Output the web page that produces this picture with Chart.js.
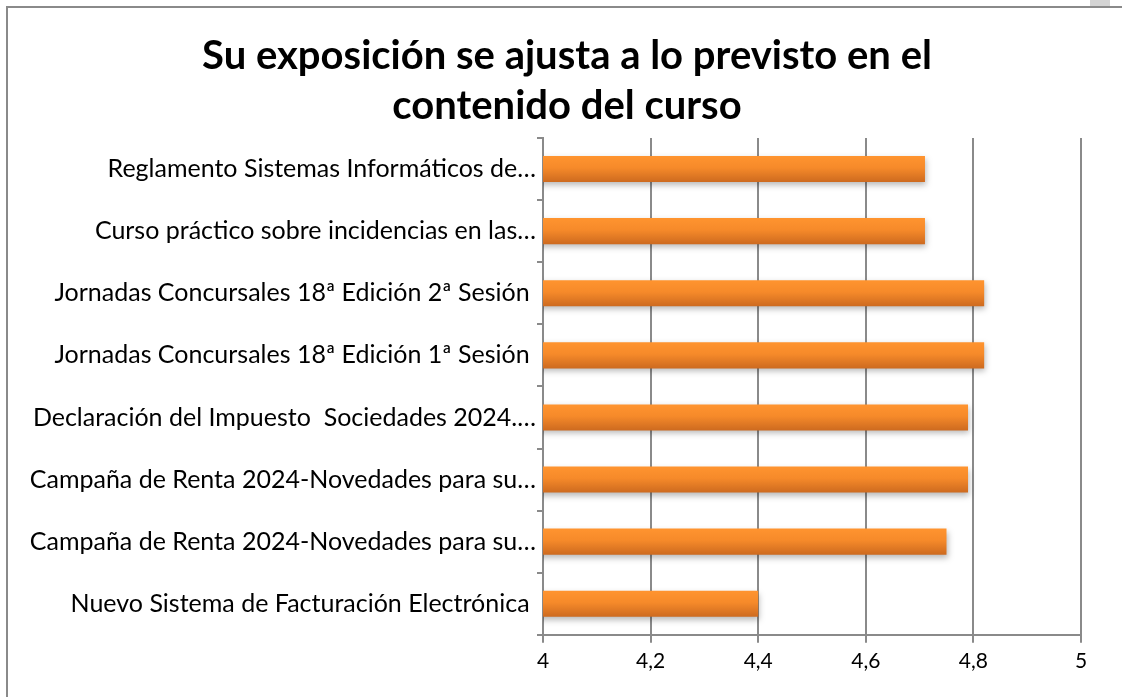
<!DOCTYPE html>
<html lang="es">
<head>
  <meta charset="UTF-8" />
  <title>Su exposición se ajusta a lo previsto en el contenido del curso</title>
  <script src="https://cdn.jsdelivr.net/npm/chart.js"></script>
  <style>
    html, body { margin: 0; padding: 0; background: #fff; overflow: hidden; }
    #frame {
      position: absolute; left: 6px; top: 6px; width: 1200px; height: 800px;
      border-left: 2px solid #8a8a8a; border-top: 2px solid #8a8a8a;
    }
    #corner { position: absolute; left: 1090px; top: 0; width: 20px; height: 6px; background: #d4d4d4; }
    #wrap { position: absolute; left: 9px; top: 8px; width: 1116px; height: 689px; }
  </style>
</head>
<body>
  <div id="frame"></div>
  <div id="corner"></div>
  <div id="wrap"><canvas id="chart"></canvas></div>

  <script>
    // courses, top to bottom
    const courses = [
      'Reglamento Sistemas Informáticos de…',
      'Curso práctico sobre incidencias en las…',
      'Jornadas Concursales 18ª Edición 2ª Sesión ',
      'Jornadas Concursales 18ª Edición 1ª Sesión ',
      'Declaración del Impuesto  Sociedades 2024.…',
      'Campaña de Renta 2024-Novedades para su…',
      'Campaña de Renta 2024-Novedades para su…',
      'Nuevo Sistema de Facturación Electrónica '
    ];
    // average score per course
    const scores = [4.71, 4.71, 4.82, 4.82, 4.79, 4.79, 4.75, 4.40];
    const titleLines = ['Su exposición se ajusta a lo previsto en el', 'contenido del curso'];
    const axisMin = 4, axisMax = 5, axisStep = 0.2;

    const BAR_PCT = 0.42;
    const gridGray = '#8a8a8a';

    // vertical orange gradient for each bar
    function barFill(context) {
      const chart = context.chart;
      const y = chart.scales.y;
      if (!y || context.dataIndex === undefined) return '#f08428';
      const center = y.getPixelForValue(context.dataIndex);
      const h = (y.height / courses.length) * BAR_PCT;
      if (!isFinite(center) || !isFinite(h) || h <= 0) return '#f08428';
      const g = chart.ctx.createLinearGradient(0, center - h / 2, 0, center + h / 2);
      g.addColorStop(0, '#ff942f');
      g.addColorStop(0.45, '#f68a2a');
      g.addColorStop(1, '#cd6a1f');
      return g;
    }

    // soft drop shadow under the bars
    const barShadow = {
      id: 'barShadow',
      beforeDatasetDraw(chart) {
        const ctx = chart.ctx;
        ctx.save();
        ctx.shadowColor = 'rgba(0,0,0,0.28)';
        ctx.shadowBlur = 6;
        ctx.shadowOffsetX = 1;
        ctx.shadowOffsetY = 3;
      },
      afterDatasetDraw(chart) {
        chart.ctx.restore();
      }
    };

    new Chart(document.getElementById('chart'), {
      type: 'bar',
      data: {
        labels: courses,
        datasets: [{
          data: scores,
          backgroundColor: barFill,
          borderWidth: 0,
          barPercentage: BAR_PCT,
          categoryPercentage: 1
        }]
      },
      options: {
        indexAxis: 'y',
        responsive: true,
        maintainAspectRatio: false,
        animation: false,
        layout: { padding: { left: 0, right: 0, top: 0, bottom: 17 } },
        plugins: {
          legend: { display: false },
          tooltip: { enabled: false },
          title: {
            display: true,
            text: titleLines,
            color: '#000',
            font: { family: 'Lato', size: 40, weight: 'bold', lineHeight: 1.25 },
            padding: { top: 23, bottom: 7 }
          }
        },
        scales: {
          x: {
            min: axisMin,
            max: axisMax,
            grid: { color: gridGray, lineWidth: 2, tickLength: 8 },
            border: { color: gridGray, width: 2 },
            ticks: {
              stepSize: axisStep,
              color: '#000',
              padding: 6,
              font: { family: 'Lato', size: 21 },
              callback: v => String(Math.round(v * 10) / 10).replace('.', ',')
            }
          },
          y: {
            grid: { drawOnChartArea: false, offset: true, color: gridGray, lineWidth: 2, tickLength: 6 },
            border: { color: gridGray, width: 2 },
            ticks: {
              color: '#000',
              padding: 1,
              autoSkip: false,
              font: { family: 'Lato', size: 25 }
            },
            afterFit(scale) { scale.width = 534; }
          },
          // empty right-hand gutter so the plot ends short of the frame
          gutter: {
            type: 'linear',
            axis: 'y',
            position: 'right',
            grid: { display: false },
            border: { display: false },
            ticks: { display: false },
            afterFit(scale) { scale.width = 44; }
          }
        }
      },
      plugins: [barShadow]
    });
  </script>
</body>
</html>
